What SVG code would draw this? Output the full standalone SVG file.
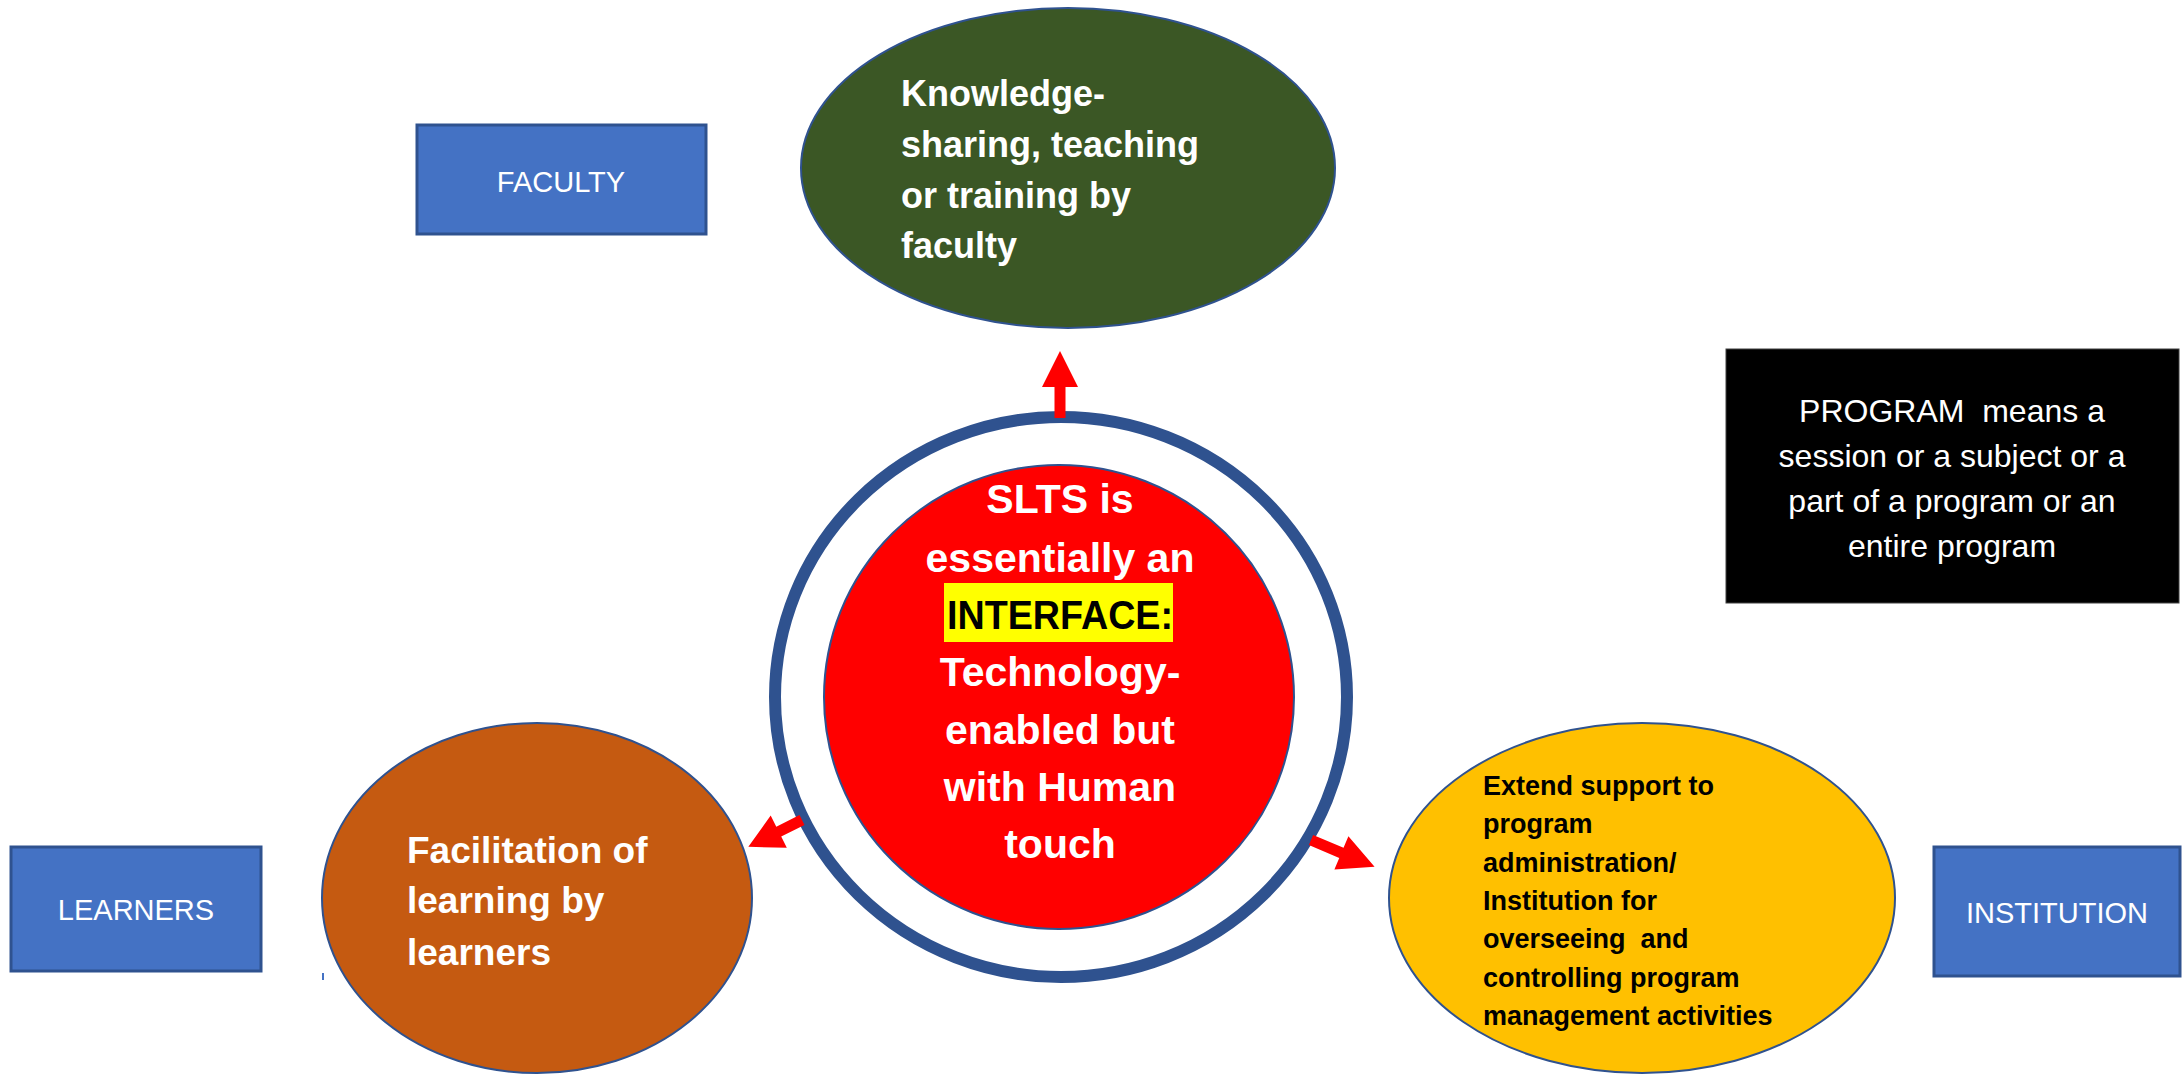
<svg xmlns="http://www.w3.org/2000/svg" width="2182" height="1075" viewBox="0 0 2182 1075">
<style>
.box{fill:#4472C4;stroke:#2F528F;stroke-width:3}
.boxt{font-family:"Liberation Sans",Arial,sans-serif;font-size:29px;fill:#fff;text-anchor:middle}
.ell{stroke:#2F528F;stroke-width:2}
.bw{font-family:"Liberation Sans",Arial,sans-serif;font-weight:bold;fill:#fff}
.bk{font-family:"Liberation Sans",Arial,sans-serif;font-weight:bold;fill:#000;white-space:pre}
.note{font-family:"Liberation Sans",Arial,sans-serif;font-size:32px;fill:#fff;text-anchor:middle;white-space:pre}
.arr{fill:#FF0000}
</style>
<rect width="2182" height="1075" fill="#fff"/>

<g id="faculty">
<rect class="box" x="417" y="125" width="289" height="109"/>
<text class="boxt" x="561" y="192">FACULTY</text>
</g>

<g id="learners">
<rect class="box" x="11" y="847" width="250" height="124"/>
<text class="boxt" x="136" y="920">LEARNERS</text>
</g>

<g id="institution">
<rect class="box" x="1934" y="847" width="246" height="129"/>
<text class="boxt" x="2057" y="923">INSTITUTION</text>
</g>

<g id="program-note">
<rect x="1726" y="349" width="453" height="254" fill="#000" stroke="#404040" stroke-width="1"/>
<text class="note" x="1952" y="422">PROGRAM  means a</text>
<text class="note" x="1952" y="467">session or a subject or a</text>
<text class="note" x="1952" y="512">part of a program or an</text>
<text class="note" x="1952" y="557">entire program</text>
</g>

<g id="faculty-role">
<ellipse class="ell" cx="1068" cy="168" rx="267" ry="160" fill="#3B5725"/>
<text class="bw" font-size="36" x="901" y="106">Knowledge-</text>
<text class="bw" font-size="36" x="901" y="157">sharing, teaching</text>
<text class="bw" font-size="36" x="901" y="208">or training by</text>
<text class="bw" font-size="36" x="901" y="258">faculty</text>
</g>

<g id="learners-role">
<ellipse class="ell" cx="537" cy="898" rx="215" ry="175" fill="#C55A11"/>
<text class="bw" font-size="37" x="407" y="863">Facilitation of</text>
<text class="bw" font-size="37" x="407" y="913">learning by</text>
<text class="bw" font-size="37" x="407" y="965">learners</text>
<rect x="322" y="973" width="2" height="7" fill="#4472C4"/>
</g>

<g id="institution-role">
<ellipse class="ell" cx="1642" cy="898" rx="253" ry="175" fill="#FFC000"/>
<text class="bk" font-size="27" x="1483" y="795">Extend support to</text>
<text class="bk" font-size="27" x="1483" y="833">program</text>
<text class="bk" font-size="27" x="1483" y="872">administration/</text>
<text class="bk" font-size="27" x="1483" y="910">Institution for</text>
<text class="bk" font-size="27" x="1483" y="948">overseeing  and</text>
<text class="bk" font-size="27" x="1483" y="987">controlling program</text>
<text class="bk" font-size="27" x="1483" y="1025">management activities</text>
</g>

<g id="slts">
<ellipse cx="1061" cy="697" rx="286" ry="280" fill="#fff" stroke="#2F528F" stroke-width="12"/>
<ellipse class="ell" cx="1059" cy="697" rx="235" ry="232" fill="#FF0000"/>
<rect x="944" y="583" width="229" height="59" fill="#FFFF00"/>
<g class="bw" font-size="41" text-anchor="middle">
<text x="1060" y="513">SLTS is</text>
<text x="1060" y="572">essentially an</text>
<text x="1060" y="629" fill="#000" textLength="226" lengthAdjust="spacingAndGlyphs">INTERFACE:</text>
<text x="1060" y="686">Technology-</text>
<text x="1060" y="744">enabled but</text>
<text x="1060" y="801">with Human</text>
<text x="1060" y="858">touch</text>
</g>
</g>

<g id="connectors">
<polygon class="arr" transform="translate(1060,418) rotate(-90)" points="0,-5.5 31,-5.5 31,-18 67,0 31,18 31,5.5 0,5.5"/>
<polygon class="arr" transform="translate(802,820) rotate(153.4)" points="0,-5.5 26,-5.5 26,-18 60,0 26,18 26,5.5 0,5.5"/>
<polygon class="arr" transform="translate(1311,840) rotate(22.9)" points="0,-5.5 33,-5.5 33,-18 69,0 33,18 33,5.5 0,5.5"/>
</g>
</svg>
